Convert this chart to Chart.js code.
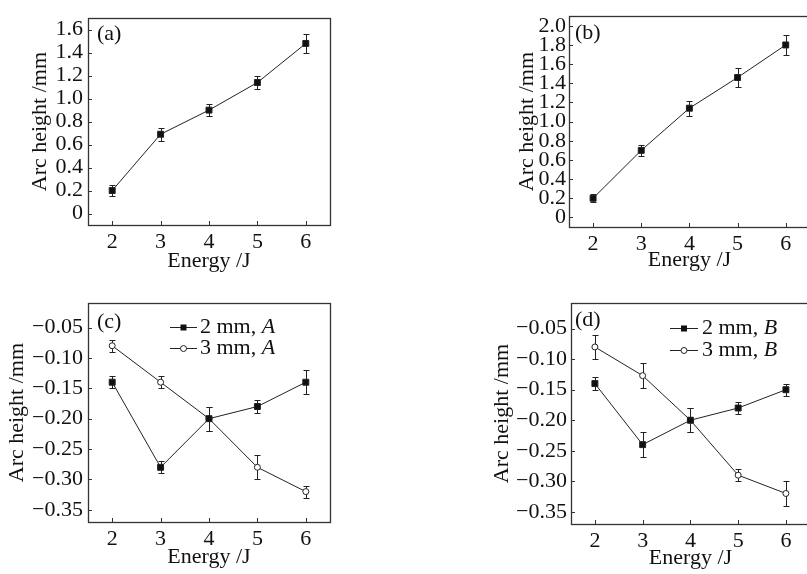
<!DOCTYPE html>
<html>
<head>
<meta charset="utf-8">
<script src="https://cdn.jsdelivr.net/npm/chart.js@4.4.1/dist/chart.umd.min.js"></script>
<style>
body { margin: 0; background: #fff; width: 807px; height: 574px; overflow: hidden; position: relative; }
canvas { position: absolute; }
</style>
</head>
<body>
<canvas id="pa" width="400" height="285" style="left:0;top:0"></canvas>
<canvas id="pb" width="335" height="285" style="left:480px;top:0"></canvas>
<canvas id="pc" width="400" height="289" style="left:0;top:285px"></canvas>
<canvas id="pd" width="335" height="289" style="left:480px;top:285px"></canvas>
<script>
// data
const energy = [2, 3, 4, 5, 6];

const heightA = [0.2, 0.69, 0.9, 1.14, 1.48];
const errA = [0.05, 0.055, 0.05, 0.06, 0.08];

const heightB = [0.2, 0.7, 1.14, 1.46, 1.8];
const errB = [0.04, 0.06, 0.08, 0.1, 0.1];

const c2mm = [-0.14, -0.28, -0.20, -0.18, -0.14];
const c2mmErr = [0.01, 0.01, 0.02, 0.01, 0.02];
const c3mm = [-0.08, -0.14, -0.20, -0.28, -0.32];
const c3mmErr = [0.01, 0.01, 0.02, 0.02, 0.01];

const d2mm = [-0.14, -0.24, -0.20, -0.18, -0.15];
const d2mmErr = [0.01, 0.02, 0.02, 0.01, 0.01];
const d3mm = [-0.08, -0.127, -0.20, -0.29, -0.32];
const d3mmErr = [0.02, 0.02, 0.02, 0.01, 0.02];

const xTicks = [2, 3, 4, 5, 6];
const yTicksA = [0, 0.2, 0.4, 0.6, 0.8, 1.0, 1.2, 1.4, 1.6];
const yLabelsA = ['0', '0.2', '0.4', '0.6', '0.8', '1.0', '1.2', '1.4', '1.6'];
const yTicksB = [0, 0.2, 0.4, 0.6, 0.8, 1.0, 1.2, 1.4, 1.6, 1.8, 2.0];
const yLabelsB = ['0', '0.2', '0.4', '0.6', '0.8', '1.0', '1.2', '1.4', '1.6', '1.8', '2.0'];
const yTicksCD = [-0.35, -0.30, -0.25, -0.20, -0.15, -0.10, -0.05];
const yLabelsCD = ['\u22120.35', '\u22120.30', '\u22120.25', '\u22120.20', '\u22120.15', '\u22120.10', '\u22120.05'];

const FONT = '"Liberation Serif", "Times New Roman", serif';
const INK = '#111';
Chart.defaults.font.family = FONT;
Chart.defaults.color = INK;

const deco = {
  id: 'deco',
  beforeDatasetsDraw(chart) {
    const { ctx } = chart;
    const ys = chart.scales.y;
    ctx.save();
    ctx.strokeStyle = '#222';
    ctx.lineWidth = 1;
    chart.data.datasets.forEach((ds, i) => {
      chart.getDatasetMeta(i).data.forEach((pt, j) => {
        const v = ds.data[j].y, e = ds.errors[j];
        const t = Math.round(ys.getPixelForValue(v + e)) + 0.5;
        const b = Math.round(ys.getPixelForValue(v - e)) + 0.5;
        const x = Math.round(pt.x) + 0.5;
        ctx.beginPath();
        ctx.moveTo(x, t); ctx.lineTo(x, b);
        ctx.moveTo(x - 3, t); ctx.lineTo(x + 3, t);
        ctx.moveTo(x - 3, b); ctx.lineTo(x + 3, b);
        ctx.stroke();
      });
    });
    ctx.restore();
  },
  afterDraw(chart, args, opts) {
    const { ctx, chartArea: a } = chart;
    ctx.save();
    ctx.strokeStyle = '#333';
    ctx.lineWidth = 1.3;
    ctx.strokeRect(Math.round(a.left) + 0.5, Math.round(a.top) + 0.5,
      Math.round(a.right - a.left), Math.round(a.bottom - a.top));
    // inward tick marks
    ctx.lineWidth = 1;
    ctx.beginPath();
    chart.scales.x.ticks.forEach(t => {
      const px = Math.round(chart.scales.x.getPixelForValue(t.value)) + 0.5;
      ctx.moveTo(px, a.bottom); ctx.lineTo(px, a.bottom - 4);
    });
    chart.scales.y.ticks.forEach(t => {
      const py = Math.round(chart.scales.y.getPixelForValue(t.value)) + 0.5;
      ctx.moveTo(a.left, py); ctx.lineTo(a.left + 4, py);
    });
    ctx.stroke();
    // panel label
    ctx.fillStyle = INK;
    ctx.font = '22px ' + FONT;
    ctx.textBaseline = 'middle';
    ctx.textAlign = 'left';
    ctx.fillText(opts.label, a.left + opts.labelDx, a.top + opts.labelDy);
    // legend
    if (opts.legend) {
      const L = opts.legend;
      chart.data.datasets.forEach((ds, i) => {
        const y = Math.round(a.top + L.y0 + i * L.dy) + 0.5;
        const x0 = a.left + L.x0, x1 = a.left + L.x1;
        ctx.strokeStyle = '#222';
        ctx.lineWidth = 1;
        ctx.beginPath(); ctx.moveTo(x0, y); ctx.lineTo(x1, y); ctx.stroke();
        const xm = (x0 + x1) / 2;
        if (ds.pointStyle === 'rect') {
          ctx.fillStyle = '#111';
          ctx.fillRect(xm - 3, y - 3, 6, 6);
        } else {
          ctx.fillStyle = '#fff';
          ctx.beginPath(); ctx.arc(xm, y, 3, 0, Math.PI * 2); ctx.fill(); ctx.stroke();
        }
        const parts = ds.label.split('|');
        ctx.fillStyle = INK;
        ctx.font = '22px ' + FONT;
        ctx.fillText(parts[0], a.left + L.tx, y);
        const w = ctx.measureText(parts[0]).width;
        ctx.font = 'italic 22px ' + FONT;
        ctx.fillText(parts[1], a.left + L.tx + w, y);
      });
    }
    ctx.restore();
  }
};

function series(label, vals, errs, style) {
  return {
    label: label,
    data: energy.map((x, i) => ({ x: x, y: vals[i] })),
    errors: errs,
    borderColor: '#222',
    borderWidth: 1,
    pointStyle: style,
    pointRadius: style === 'rect' ? 4.2 : 3,
    pointBackgroundColor: style === 'rect' ? '#111' : '#fff',
    pointBorderColor: '#222',
    pointBorderWidth: 1,
    tension: 0
  };
}

function makeChart(id, datasets, p) {
  return new Chart(document.getElementById(id), {
    type: 'line',
    data: { datasets: datasets },
    plugins: [deco],
    options: {
      responsive: false,
      animation: false,
      layout: { padding: { top: p.padTop, right: p.padRight, left: 0, bottom: 0 } },
      plugins: {
        legend: { display: false },
        tooltip: { enabled: false },
        deco: { label: p.label, labelDx: p.labelDx, labelDy: p.labelDy, legend: p.legend }
      },
      scales: {
        x: {
          type: 'linear', min: 1.5, max: 6.5,
          afterBuildTicks: s => { s.ticks = xTicks.map(v => ({ value: v })); },
          afterFit: s => { s.height = p.xHeight; },
          grid: { display: false, drawTicks: false },
          border: { display: false },
          ticks: { autoSkip: false, maxRotation: 0, padding: 4, font: { size: 22 }, color: INK,
                   callback: v => String(v) },
          title: { display: true, text: 'Energy /J', font: { size: 22 }, color: INK,
                   padding: { top: 0, bottom: p.xTitlePad } }
        },
        y: {
          min: p.yMin, max: p.yMax,
          afterBuildTicks: s => { s.ticks = p.yTicks.map(v => ({ value: v })); },
          afterFit: s => { s.width = p.yWidth; },
          grid: { display: false, drawTicks: false },
          border: { display: false },
          ticks: { autoSkip: false, padding: p.yTickPad, font: { size: 22 }, color: INK,
                   callback: v => p.yLabels[p.yTicks.indexOf(v)] },
          title: { display: true, text: 'Arc height /mm', font: { size: 22 }, color: INK,
                   padding: { top: p.yTitlePad, bottom: 0 } }
        }
      }
    }
  });
}

makeChart('pa', [series('a', heightA, errA, 'rect')], {
  padTop: 7, padRight: 70, xHeight: 60, xTitlePad: 11,
  yMin: -0.1, yMax: 1.7, yTicks: yTicksA, yLabels: yLabelsA,
  yWidth: 88, yTickPad: 5, yTitlePad: 27,
  label: '(a)', labelDx: 9, labelDy: 16
});

makeChart('pb', [series('b', heightB, errB, 'rect')], {
  padTop: 8, padRight: 3, xHeight: 58, xTitlePad: 12,
  yMin: -0.1, yMax: 2.1, yTicks: yTicksB, yLabels: yLabelsB,
  yWidth: 89, yTickPad: 3, yTitlePad: 34,
  label: '(b)', labelDx: 6, labelDy: 17
});

makeChart('pc', [series('2 mm, |A', c2mm, c2mmErr, 'rect'), series('3 mm, |A', c3mm, c3mmErr, 'circle')], {
  padTop: 18, padRight: 70, xHeight: 52, xTitlePad: 4,
  yMin: -0.37, yMax: -0.01, yTicks: yTicksCD, yLabels: yLabelsCD,
  yWidth: 88, yTickPad: 5, yTitlePad: 4,
  label: '(c)', labelDx: 9, labelDy: 19,
  legend: { x0: 82, x1: 109, tx: 112, y0: 24, dy: 21 }
});

makeChart('pd', [series('2 mm, |B', d2mm, d2mmErr, 'rect'), series('3 mm, |B', d3mm, d3mmErr, 'circle')], {
  padTop: 18, padRight: 3, xHeight: 50, xTitlePad: 3,
  yMin: -0.37, yMax: -0.008, yTicks: yTicksCD, yLabels: yLabelsCD,
  yWidth: 91, yTickPad: 4, yTitlePad: 9,
  label: '(d)', labelDx: 4, labelDy: 17,
  legend: { x0: 99, x1: 127, tx: 131, y0: 25, dy: 22 }
});
</script>
</body>
</html>
